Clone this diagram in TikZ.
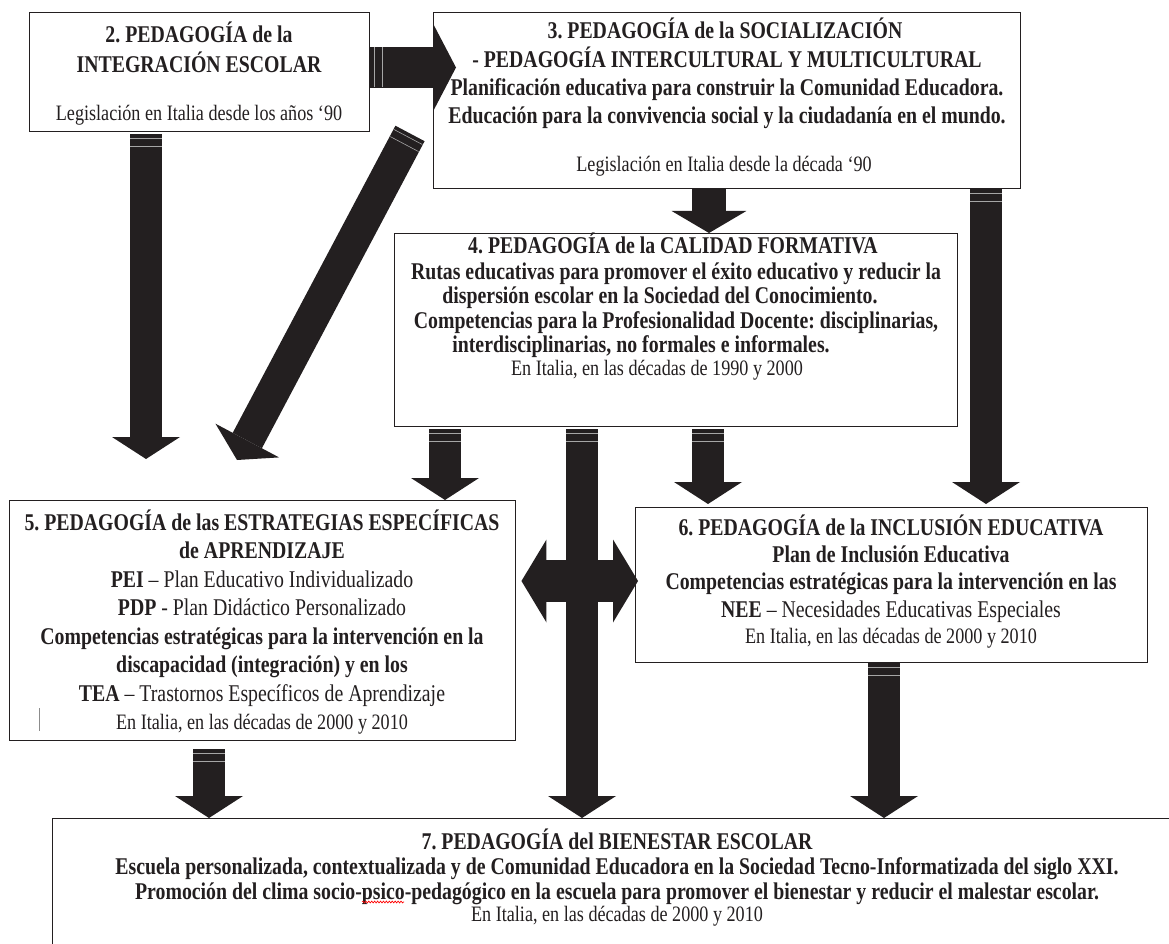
\documentclass[tikz,border=0pt]{standalone}
\usepackage{fontspec}
\newfontfamily\rf{Liberation Serif}[FakeStretch=0.825]
\usetikzlibrary{arrows.meta,calc,decorations.markings,decorations.pathmorphing}
\definecolor{ink}{HTML}{231F20}
\frenchspacing
\begin{document}
\begin{tikzpicture}[x=0.75pt,y=-0.75pt,
  box/.style={draw=ink, line width=1.1pt, fill=white, inner sep=0pt, anchor=north west},
  tb/.style={anchor=base, inner sep=0pt, text=ink, font=\rf\bfseries\fontsize{18pt}{21pt}\selectfont},
  tr/.style={anchor=base, inner sep=0pt, text=ink, font=\rf\fontsize{16.5pt}{19pt}\selectfont},
  blk/.style n args={3}{draw=ink, line width=#1, -{Triangle[width=#2,length=#3,line width=0pt]}},
  dblk/.style n args={3}{draw=ink, line width=#1, {Triangle[width=#2,length=#3,line width=0pt]}-{Triangle[width=#2,length=#3,line width=0pt]}},
  stripes/.style={postaction={decorate, decoration={markings,
      mark=at position 3pt with {\draw[-, black!35, line width=0.45pt] (0,-#1) -- (0,#1);},
      mark=at position 9pt with {\draw[-, black!35, line width=0.45pt] (0,-#1) -- (0,#1);}}}}
]
\useasboundingbox (0,0) rectangle (1169,944);
\clip (0,0) rectangle (1169,944);
\fill[white] (0,0) rectangle (1169,944);

% boxes
\node[box, minimum width=255pt, minimum height=89.25pt] (b2) at (29,12) {};
\node[box, minimum width=440.25pt, minimum height=132pt] (b3) at (433,12) {};
\node[box, minimum width=422.25pt, minimum height=144.75pt] (b4) at (394,233) {};
\node[box, minimum width=379.5pt, minimum height=180pt] (b5) at (9,500) {};
\node[box, minimum width=384pt, minimum height=116.25pt] (b6) at (635,507) {};
\node[box, minimum width=855pt, minimum height=150pt] (b7) at (52,818) {};

% arrow end points
\coordinate (a1s) at ($(b2.north east)+(0,55.5)$);
\coordinate (a1e) at ($(b3.north west)+(23,55.5)$);
\coordinate (a2s) at ($(b2.south west)+(117,2)$);
\coordinate (a2e) at ($(b5.north west)+(137,-41)$);
\coordinate (a3s) at ($(b3.south west)+(-23,-56)$);
\coordinate (a3e) at ($(b5.north west)+(228,-40)$);
\coordinate (a4s) at ($(b3.south west)+(276,0)$);
\coordinate (a4e) at ($(b4.north west)+(315,0)$);
\coordinate (a5s) at ($(b4.south west)+(51,2)$);
\coordinate (a5e) at ($(b5.north west)+(436,0)$);
\coordinate (a6s) at ($(b4.south west)+(314,2)$);
\coordinate (a6e) at ($(b6.north west)+(73,-3)$);
\coordinate (a7s) at ($(b3.south west)+(553,0)$);
\coordinate (a7e) at ($(b6.north west)+(351,-3)$);
\coordinate (a8s) at ($(b4.south west)+(188,2)$);
\coordinate (a8e) at ($(b7.north west)+(530,0)$);
\coordinate (a9s) at ($(b5.south west)+(200,8)$);
\coordinate (a9e) at ($(b7.north west)+(157,0)$);
\coordinate (a10s) at ($(b6.south west)+(249,0)$);
\coordinate (a10e) at ($(b7.north west)+(832,0)$);
\coordinate (dl) at ($(b5.north east)+(5,81)$);
\coordinate (dr) at ($(b6.north west)+(3,74)$);

% arrows
\draw[blk={30.75pt}{66pt}{17.25pt}, stripes=15pt] (a1s) -- (a1e);
\draw[blk={24pt}{51pt}{16.5pt}, stripes=12pt] (a2s) -- (a2e);
\draw[blk={24.75pt}{54pt}{16.5pt}, stripes=12pt] (a3s) -- (a3e);
\draw[blk={25.5pt}{56pt}{16.5pt}] (a4s) -- (a4e);
\draw[blk={24pt}{51pt}{16.5pt}, stripes=12pt] (a5s) -- (a5e);
\draw[blk={24pt}{51pt}{16.5pt}, stripes=12pt] (a6s) -- (a6e);
\draw[blk={24pt}{51pt}{16.5pt}, stripes=12pt] (a7s) -- (a7e);
\draw[blk={24pt}{51pt}{16.5pt}, stripes=12pt] (a8s) -- (a8e);
\draw[blk={24pt}{51pt}{16.5pt}, stripes=12pt] (a9s) -- (a9e);
\draw[blk={24pt}{51pt}{16.5pt}, stripes=12pt] (a10s) -- (a10e);
\draw[dblk={31.5pt}{62.25pt}{18.75pt}] (dl) -- (dr);

% box 2
\node[tb] (t2a) at (199,43) {2. PEDAGOGÍA de la};
\node[tb] (t2b) at (199,73) {INTEGRACIÓN ESCOLAR};
\node[tr] (t2c) at (199,121) {Legislación en Italia desde los años ‘90};

% box 3
\node[tb] (t3a) at (725,39) {3. PEDAGOGÍA de la SOCIALIZACIÓN};
\node[tb] (t3b) at (727,68) {- PEDAGOGÍA INTERCULTURAL Y MULTICULTURAL};
\node[tb] (t3c) at (727,96) {Planificación educativa para construir la Comunidad Educadora.};
\node[tb] (t3d) at (727,124) {Educación para la convivencia social y la ciudadanía en el mundo.};
\node[tr] (t3e) at (724,172) {Legislación en Italia desde la década ‘90};

% box 4
\node[tb] (t4a) at (673,254) {4. PEDAGOGÍA de la CALIDAD FORMATIVA};
\node[tb] (t4b) at (676,280) {Rutas educativas para promover el éxito educativo y reducir la};
\node[tb] (t4c) at (660,304) {dispersión escolar en la Sociedad del Conocimiento.};
\node[tb] (t4d) at (676,329) {Competencias para la Profesionalidad Docente: disciplinarias,};
\node[tb] (t4e) at (641,353) {interdisciplinarias, no formales e informales.};
\node[tr] (t4f) at (657,376) {En Italia, en las décadas de 1990 y 2000};

% box 5
\node[tb] (t5a) at (262,530) {5. PEDAGOGÍA de las ESTRATEGIAS ESPECÍFICAS};
\node[tb] (t5b) at (262,558.5) {de APRENDIZAJE};
\node[tb] (t5c) at (262,587) {PEI {\mdseries – Plan Educativo Individualizado}};
\node[tb] (t5d) at (262,615.5) {PDP {\mdseries - Plan Didáctico Personalizado}};
\node[tb] (t5e) at (262,644) {Competencias estratégicas para la intervención en la};
\node[tb] (t5f) at (262,672.5) {discapacidad (integración) y en los};
\node[tb] (t5g) at (262,701) {TEA {\mdseries – Trastornos Específicos de Aprendizaje}};
\node[tr] (t5h) at (262,729) {En Italia, en las décadas de 2000 y 2010};
\draw[black!45, line width=0.6pt] ($(b5.north west)+(30,208)$) -- ($(b5.north west)+(30,231)$);

% box 6
\node[tb] (t6a) at (891,535) {6. PEDAGOGÍA de la INCLUSIÓN EDUCATIVA};
\node[tb] (t6b) at (891,562) {Plan de Inclusión Educativa};
\node[tb] (t6c) at (891,589) {Competencias estratégicas para la intervención en las};
\node[tb] (t6d) at (891,617) {NEE {\mdseries – Necesidades Educativas Especiales}};
\node[tr] (t6e) at (891,643) {En Italia, en las décadas de 2000 y 2010};

% box 7
\node[tb] (t7a) at (617,849) {7. PEDAGOGÍA del BIENESTAR ESCOLAR};
\node[tb] (t7b) at (617,874) {Escuela personalizada, contextualizada y de Comunidad Educadora en la Sociedad Tecno-Informatizada del siglo XXI.};
\node[tb] (t7c) at (617,899) {Promoción del clima socio-psico-pedagógico en la escuela para promover el bienestar y reducir el malestar escolar.};
\node[tr] (t7d) at (617,921) {En Italia, en las décadas de 2000 y 2010};
\draw[red, line width=0.5pt, decorate, decoration={snake, amplitude=0.7pt, segment length=2.2pt}] (362,902) -- (404,902);
\end{tikzpicture}
\end{document}
